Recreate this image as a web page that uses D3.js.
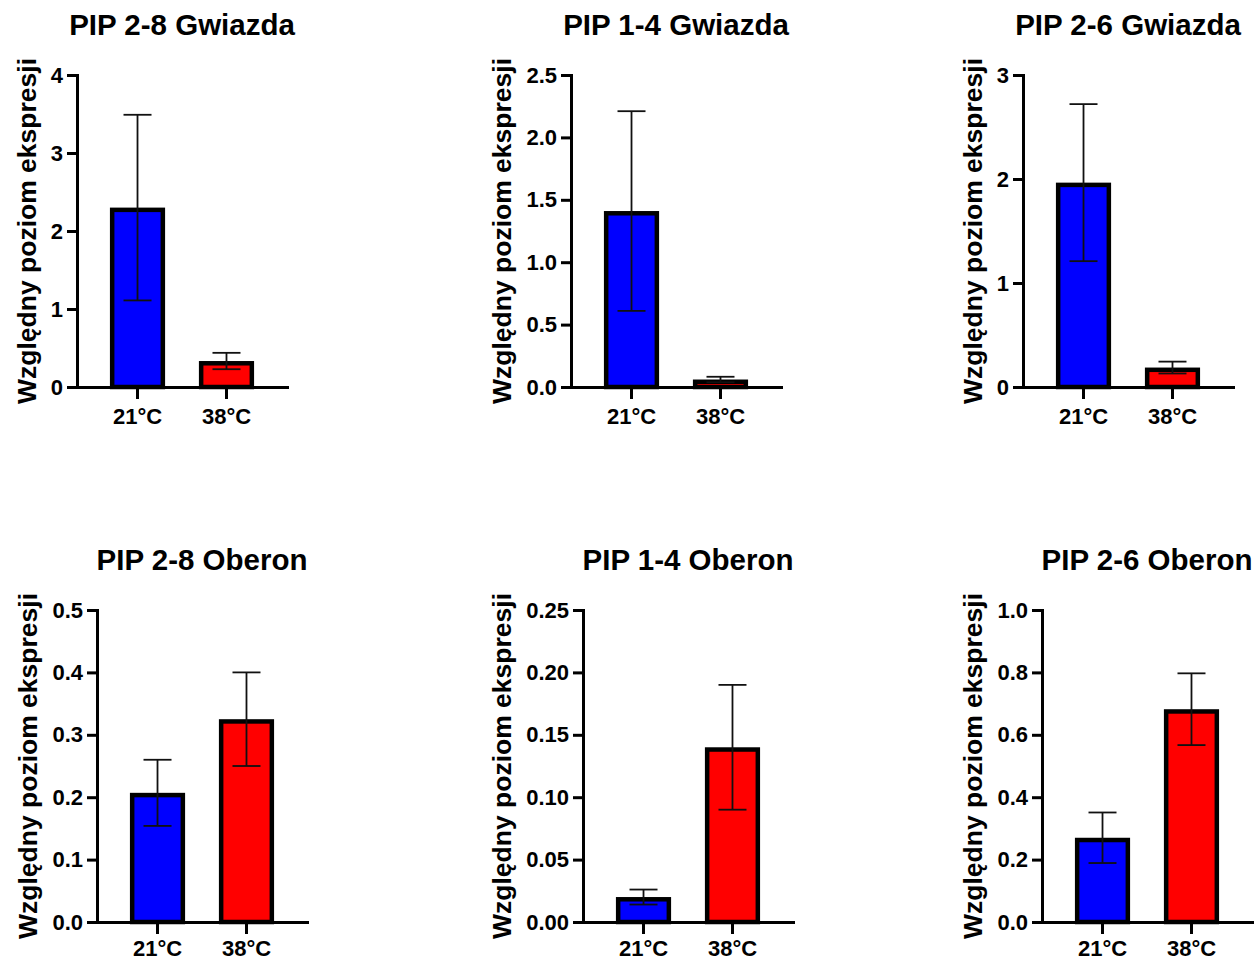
<!DOCTYPE html>
<html>
<head>
<meta charset="utf-8">
<script src="https://cdn.jsdelivr.net/npm/d3@7"></script>
<style>
  body { margin: 0; background: #fff; }
  svg text { font-family: "Liberation Sans", Arial, sans-serif; font-weight: bold; fill: #000; }
</style>
</head>
<body>
<div id="chart"></div>
<script>
// chart values
var titles = ["PIP 2-8 Gwiazda", "PIP 1-4 Gwiazda", "PIP 2-6 Gwiazda",
              "PIP 2-8 Oberon", "PIP 1-4 Oberon", "PIP 2-6 Oberon"];
var categories = ["21°C", "38°C"];
var mean21 = [2.30, 1.41, 1.965, 0.207, 0.020, 0.270];
var sd21   = [1.19, 0.80, 0.755, 0.053, 0.006, 0.081];
var mean38 = [0.333, 0.060, 0.187, 0.325, 0.140, 0.682];
var sd38   = [0.105, 0.022, 0.057, 0.075, 0.050, 0.115];
var yMax   = [4, 2.5, 3, 0.5, 0.25, 1.0];
var yStep  = [1, 0.5, 1, 0.1, 0.05, 0.2];
var yDecimals = [0, 1, 0, 1, 2, 1];
var yLabel = "Względny poziom ekspresji";

var colors = ["#0000ff", "#ff0000"];

// layout (plot origin for each panel)
var originX = [77, 571, 1023, 97, 583, 1042];
var rowTop = [75, 610], rowBottom = [387, 922];
var xLabelPad = [9, 6];
var plotW = 210;
var barStroke = 4.5;

var svg = d3.select("#chart").append("svg")
    .attr("width", 1258)
    .attr("height", 961);

titles.forEach(function(title, i) {
    var row = i < 3 ? 0 : 1;
    var g = svg.append("g")
        .attr("transform", "translate(" + originX[i] + ",0)");

    var x = d3.scaleBand()
        .domain(categories)
        .range([0, plotW])
        .paddingInner(0.38)
        .paddingOuter(0.37);

    var y = d3.scaleLinear()
        .domain([0, yMax[i]])
        .range([rowBottom[row], rowTop[row]]);

    var data = [
        { cat: categories[0], mean: mean21[i], sd: sd21[i], color: colors[0] },
        { cat: categories[1], mean: mean38[i], sd: sd38[i], color: colors[1] }
    ];

    // bars, border drawn inside so outer edge = value
    g.selectAll("rect.bar")
        .data(data)
        .enter().append("rect")
        .attr("class", "bar")
        .attr("x", d => x(d.cat) + barStroke / 2)
        .attr("y", d => y(d.mean) + barStroke / 2)
        .attr("width", x.bandwidth() - barStroke)
        .attr("height", d => Math.max(0, y(0) - y(d.mean) - barStroke / 2))
        .attr("fill", d => d.color)
        .attr("stroke", "#000")
        .attr("stroke-width", barStroke);

    // error bars (mean +/- sd)
    var capHalf = 14;
    var err = g.selectAll("g.err")
        .data(data)
        .enter().append("g")
        .attr("class", "err")
        .attr("stroke", "#111")
        .attr("stroke-width", 1.8);
    err.append("line")
        .attr("x1", d => x(d.cat) + x.bandwidth() / 2)
        .attr("x2", d => x(d.cat) + x.bandwidth() / 2)
        .attr("y1", d => y(d.mean + d.sd))
        .attr("y2", d => y(d.mean - d.sd));
    err.append("line")
        .attr("x1", d => x(d.cat) + x.bandwidth() / 2 - capHalf)
        .attr("x2", d => x(d.cat) + x.bandwidth() / 2 + capHalf)
        .attr("y1", d => y(d.mean + d.sd))
        .attr("y2", d => y(d.mean + d.sd));
    err.append("line")
        .attr("x1", d => x(d.cat) + x.bandwidth() / 2 - capHalf)
        .attr("x2", d => x(d.cat) + x.bandwidth() / 2 + capHalf)
        .attr("y1", d => y(d.mean - d.sd))
        .attr("y2", d => y(d.mean - d.sd));

    // y axis
    var ticks = d3.range(0, yMax[i] + yStep[i] / 2, yStep[i]);
    var yAxis = g.append("g")
        .call(d3.axisLeft(y)
            .tickValues(ticks)
            .tickFormat(d3.format("." + yDecimals[i] + "f"))
            .tickSize(10)
            .tickSizeOuter(0)
            .tickPadding(4));
    yAxis.selectAll("text").style("font-size", "22px");

    // x axis
    var xAxis = g.append("g")
        .attr("transform", "translate(0," + y(0) + ")")
        .call(d3.axisBottom(x).tickSize(12).tickSizeOuter(0).tickPadding(xLabelPad[row]));
    xAxis.selectAll("text").style("font-size", "22px");

    [yAxis, xAxis].forEach(function(ax) {
        ax.select(".domain").attr("stroke", "#000").attr("stroke-width", 3)
            .attr("stroke-linecap", "square");
        ax.selectAll(".tick line").attr("stroke", "#000").attr("stroke-width", 3);
    });

    // y label, placed left of the tick labels
    var tickLeft = yAxis.node().getBBox().x;
    var midY = (rowTop[row] + rowBottom[row]) / 2;
    g.append("text")
        .attr("transform", "translate(" + (tickLeft - 15) + "," + midY + ") rotate(-90)")
        .attr("text-anchor", "middle")
        .style("font-size", "26.5px")
        .text(yLabel);

    // title
    g.append("text")
        .attr("x", plotW / 2)
        .attr("y", rowTop[row] - 40)
        .attr("text-anchor", "middle")
        .style("font-size", "29.5px")
        .text(title);
});
</script>
</body>
</html>
